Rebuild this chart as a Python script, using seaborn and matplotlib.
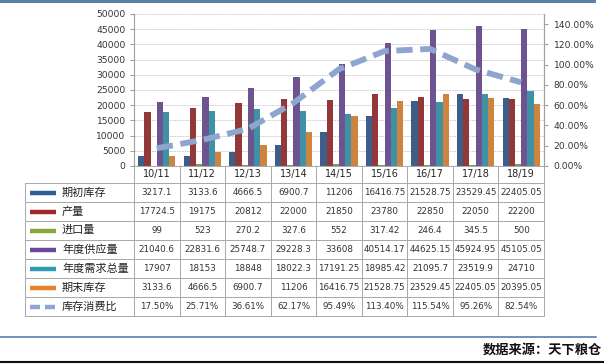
import matplotlib
matplotlib.use("Agg")
import matplotlib.pyplot as plt
import seaborn as sns
import numpy as np
import pandas as pd
from matplotlib.table import Table
from matplotlib.lines import Line2D
from matplotlib.patches import Rectangle
from matplotlib.ticker import FuncFormatter

# ---- data ----
years = ['10/11', '11/12', '12/13', '13/14', '14/15', '15/16', '16/17', '17/18', '18/19']
items = ['期初库存', '产量', '进口量', '年度供应量', '年度需求总量', '期末库存']
begin_stock = [3217.1, 3133.6, 4666.5, 6900.7, 11206, 16416.75, 21528.75, 23529.45, 22405.05]
output = [17724.5, 19175, 20812, 22000, 21850, 23780, 22850, 22050, 22200]
imports = [99, 523, 270.2, 327.6, 552, 317.42, 246.4, 345.5, 500]
supply = [21040.6, 22831.6, 25748.7, 29228.3, 33608, 40514.17, 44625.15, 45924.95, 45105.05]
demand = [17907, 18153, 18848, 18022.3, 17191.25, 18985.42, 21095.7, 23519.9, 24710]
end_stock = [3133.6, 4666.5, 6900.7, 11206, 16416.75, 21528.75, 23529.45, 22405.05, 20395.05]
ratio_label = '库存消费比'
ratio = [17.50, 25.71, 36.61, 62.17, 95.49, 113.40, 115.54, 95.26, 82.54]

series = [begin_stock, output, imports, supply, demand, end_stock]
colors = ['#2F5D96', '#A1292A', '#87A83C', '#6B4A9B', '#2E9BB5', '#E5832A']
line_color = '#8DA5CF'

df = pd.DataFrame([
    {'year': y, 'item': name, 'value': v}
    for name, vals in zip(items, series)
    for y, v in zip(years, vals)
])

sns.set_style('white')
plt.rcParams['font.family'] = ['DejaVu Sans', 'Noto Sans CJK SC']
cjk = ['Noto Sans CJK SC', 'DejaVu Sans']

W, H = 604, 364
fig = plt.figure(figsize=(W / 100, H / 100), dpi=100)


def px_box(x0, y0, x1, y1):
    # pixel box (top-left origin) -> figure fraction rect
    return [x0 / W, 1 - y1 / H, (x1 - x0) / W, (y1 - y0) / H]


# ---- main chart ----
ax = fig.add_axes(px_box(134, 14, 544, 166))
sns.barplot(data=df, x='year', y='value', hue='item', order=years, hue_order=items,
            palette=colors, width=0.82, linewidth=0, errorbar=None, legend=False, ax=ax)
ax.set_xlim(-0.5, len(years) - 0.5)
ax.set_ylim(0, 50000)
ax.set_yticks(np.arange(0, 50001, 5000))
ax.set_xlabel('')
ax.set_ylabel('')
ax.tick_params(axis='x', bottom=False, labelbottom=False)
ax.tick_params(axis='y', length=3, color='#A0A0A0', pad=3, labelsize=6.6, labelcolor='#333333')
ax.grid(axis='y', color='#C8C8C8', linestyle=(0, (2, 1)), linewidth=0.6)
ax.set_axisbelow(True)
ax.spines['top'].set_visible(False)
for s in ['left', 'right', 'bottom']:
    ax.spines[s].set_color('#A0A0A0')
    ax.spines[s].set_linewidth(0.8)

ax2 = ax.twinx()
sns.lineplot(x=np.arange(len(years)), y=ratio, ax=ax2, color=line_color, linewidth=4.2)
ax2.lines[0].set_linestyle((0, (2.8, 1.3)))
ax2.set_ylim(0, 150)
ax2.set_yticks(np.arange(0, 141, 20))
ax2.yaxis.set_major_formatter(FuncFormatter(lambda v, p: f'{v:.2f}%'))
ax2.tick_params(axis='y', length=3, color='#A0A0A0', pad=4, labelsize=6.6, labelcolor='#333333')
for s in ['top', 'left', 'bottom']:
    ax2.spines[s].set_visible(False)
ax2.spines['right'].set_color('#A0A0A0')
ax2.spines['right'].set_linewidth(0.8)


# ---- data table ----
def fmt(v):
    return ('%.2f' % v).rstrip('0').rstrip('.')


tax = fig.add_axes(px_box(25, 166, 544, 316))
tax.set_axis_off()
tab = Table(tax, bbox=[0, 0, 1, 1])
label_w, col_w, head_h, row_h = 109, 410 / 9, 17, 19
edge = '#A8A8A8'
for j, y in enumerate(years):
    c = tab.add_cell(0, j + 1, width=col_w, height=head_h, text=y, loc='center',
                     facecolor='white', edgecolor=edge)
    c.get_text().set_fontsize(7)
rows = [[fmt(v) for v in vals] for vals in series] + [[f'{r:.2f}%' for r in ratio]]
for i, row in enumerate(rows):
    tab.add_cell(i + 1, 0, width=label_w, height=row_h, text='', facecolor='white', edgecolor=edge)
    for j, s in enumerate(row):
        c = tab.add_cell(i + 1, j + 1, width=col_w, height=row_h, text=s, loc='center',
                         facecolor='white', edgecolor=edge)
        c.get_text().set_fontsize(6.3)
        c.get_text().set_color('#333333')
for c in tab.get_celld().values():
    c.set_linewidth(0.7)
tab.auto_set_font_size(False)
tax.add_table(tab)

# row labels with legend keys
total_h = head_h + 7 * row_h
tw = 544 - 25
for i, name in enumerate(items + [ratio_label]):
    yc = 1 - (head_h + row_h * i + row_h / 2) / total_h
    if i < len(items):
        tax.add_line(Line2D([(30 - 25) / tw, (56 - 25) / tw], [yc, yc], transform=tax.transAxes,
                            color=colors[i], linewidth=3.2, solid_capstyle='butt', clip_on=False))
    else:
        for a, b in [(30, 40), (45, 55)]:
            tax.add_line(Line2D([(a - 25) / tw, (b - 25) / tw], [yc, yc], transform=tax.transAxes,
                                color=line_color, linewidth=3.2, solid_capstyle='butt', clip_on=False))
    tax.text((62 - 25) / tw, yc, name, transform=tax.transAxes, ha='left', va='center',
             fontsize=8, family=cjk, color='#222222')

# ---- page decoration ----
fig.add_artist(Rectangle((0, 1 - 3 / H), 596 / W, 3 / H, transform=fig.transFigure,
                         facecolor='#5E7FA3', edgecolor='none'))
fig.add_artist(Line2D([0, 596 / W], [1 - 337 / H, 1 - 337 / H], transform=fig.transFigure,
                      color='#6E8FB8', linewidth=1.4))
fig.add_artist(Line2D([0, 1], [1 - 362 / H, 1 - 362 / H], transform=fig.transFigure,
                      color='#111111', linewidth=1.5))
fig.text(602 / W, 1 - 350 / H, '数据来源：天下粮仓', ha='right', va='center',
         fontsize=9.5, fontweight='bold', family=cjk, color='#111111')

fig.savefig('out.png', dpi=100)
